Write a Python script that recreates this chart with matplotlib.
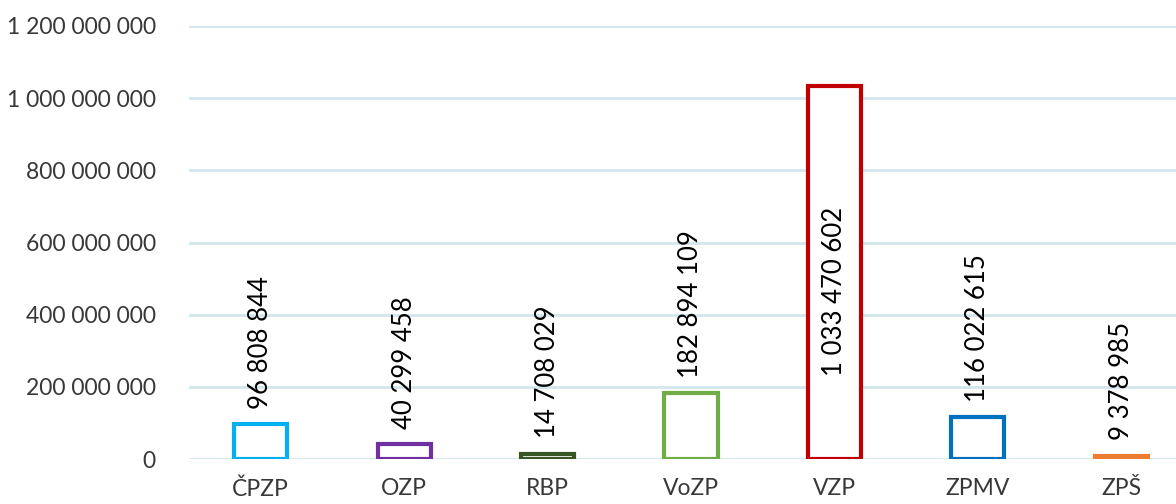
import matplotlib.pyplot as plt
from matplotlib.ticker import FuncFormatter

plt.rcParams['font.family'] = ['Lato', 'DejaVu Sans']

categories = ['ČPZP', 'OZP', 'RBP', 'VoZP', 'VZP', 'ZPMV', 'ZPŠ']
values = [96808844, 40299458, 14708029, 182894109, 1033470602, 116022615, 9378985]
colors = ['#00B0F0', '#7030A0', '#375623', '#70AD47', '#C00000', '#0070C0', '#ED7D31']
y_ticks = [0, 200000000, 400000000, 600000000, 800000000, 1000000000, 1200000000]

# labels that do not fit above the bar go inside it
INSIDE = {'VZP'}

GRID_COLOR = '#D3E6EE'
TICK_COLOR = '#383838'


def fmt(v, pos=None):
    return f'{int(v):,}'.replace(',', ' ')


fig = plt.figure(figsize=(11.76, 5.04), dpi=100)
ax = fig.add_axes([189 / 1176, 1 - 459 / 504, (1193 - 189) / 1176, (459 - 26) / 504])

x = range(len(categories))
ax.bar(x, values, width=0.37, color='white', edgecolor=colors, linewidth=3, zorder=3)

for i, (cat, v) in enumerate(zip(categories, values)):
    if cat in INSIDE:
        ax.text(i, v * 0.45, fmt(v), rotation=90, ha='center', va='center',
                fontsize=18.5, color='black', zorder=4)
    else:
        ax.annotate(fmt(v), (i, v), xytext=(0, 11), textcoords='offset points',
                    rotation=90, ha='center', va='bottom', fontsize=18.5,
                    color='black', zorder=4)

ax.set_xlim(-0.5, len(categories) - 0.5)
ax.set_ylim(0, 1200000000)
ax.set_yticks(y_ticks)
ax.yaxis.set_major_formatter(FuncFormatter(fmt))
ax.set_xticks(list(x))
ax.set_xticklabels(categories)

ax.grid(axis='y', color=GRID_COLOR, linewidth=2, zorder=0)
ax.set_axisbelow(True)
for s in ax.spines.values():
    s.set_visible(False)
ax.tick_params(axis='y', length=0, pad=24, labelsize=16.5, labelcolor=TICK_COLOR)
ax.tick_params(axis='x', length=0, pad=14, labelsize=16.5, labelcolor=TICK_COLOR)

fig.savefig('out.png', dpi=100)
